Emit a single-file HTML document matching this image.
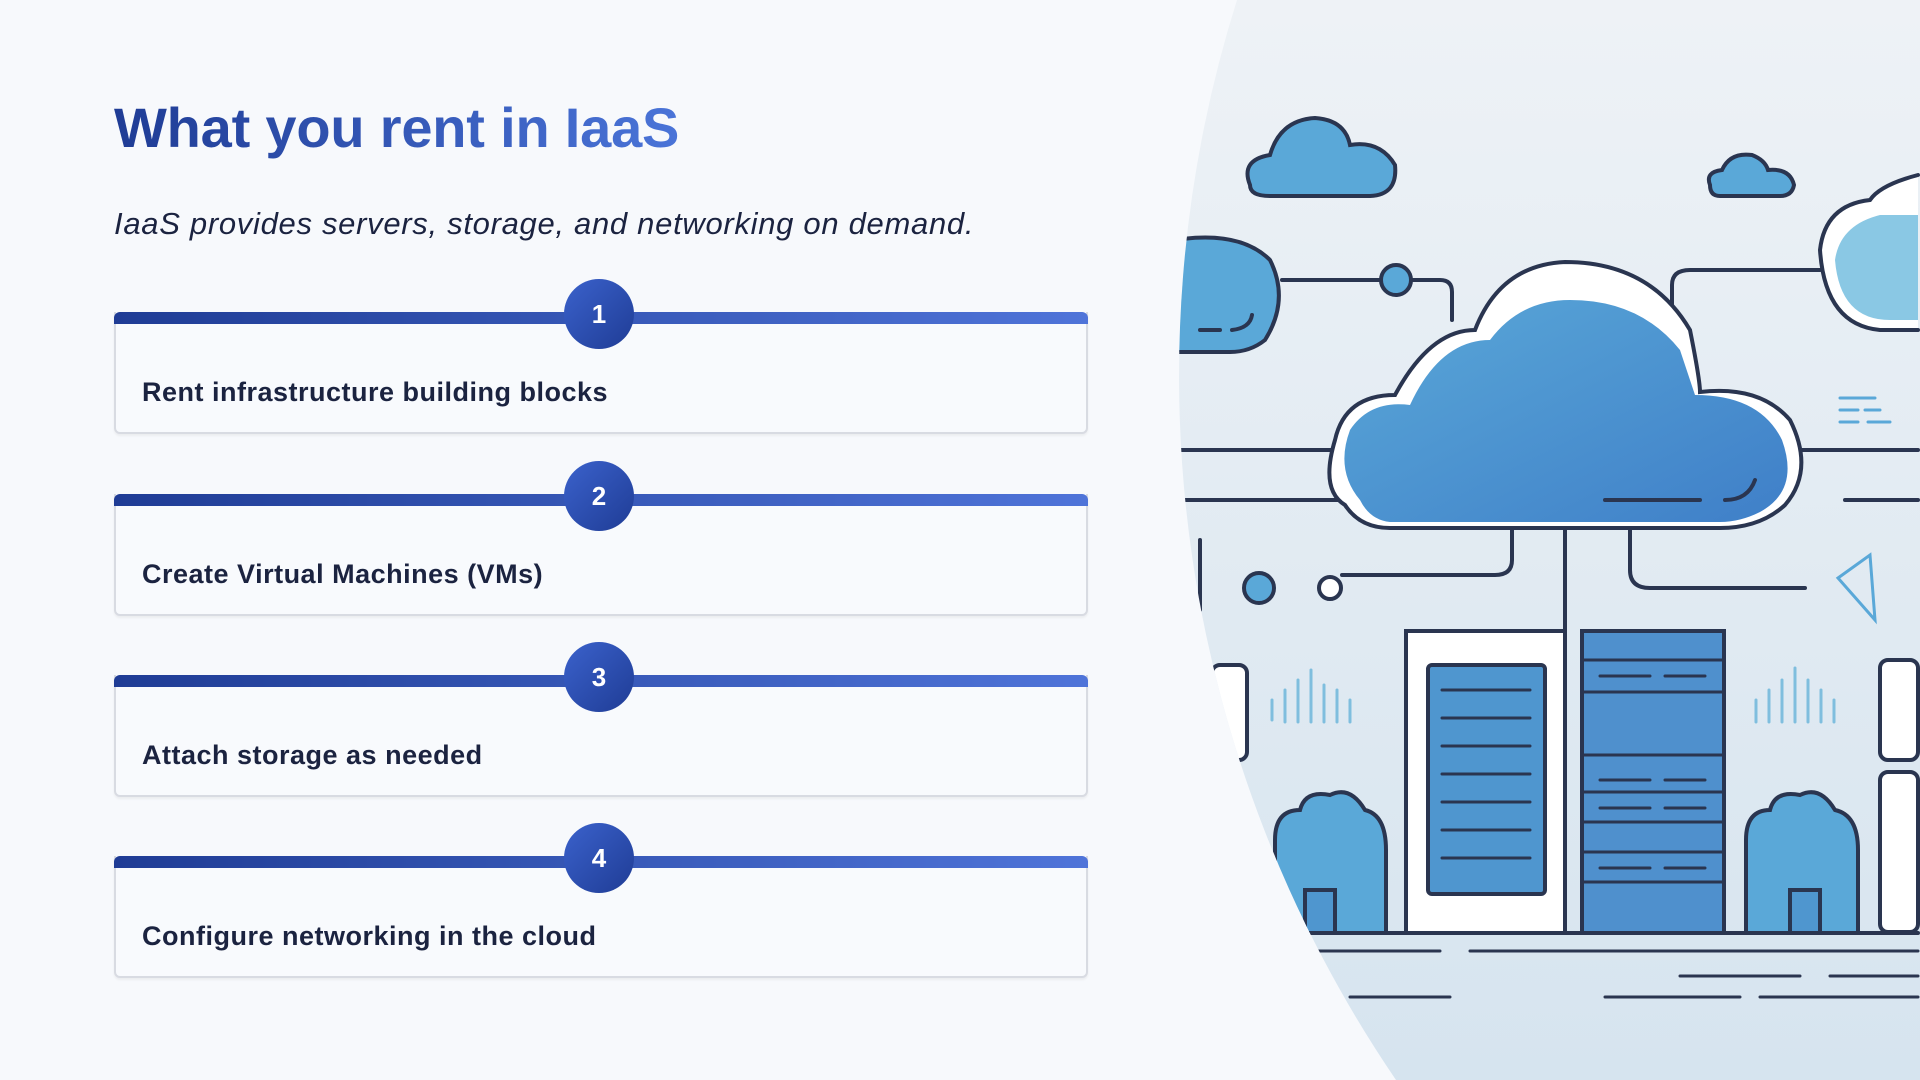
<!DOCTYPE html>
<html><head><meta charset="utf-8"><style>
html,body{margin:0;padding:0;width:1920px;height:1080px;overflow:hidden;background:#f7f9fc;font-family:"Liberation Sans",sans-serif;}
#w{position:relative;width:1920px;height:1080px;overflow:hidden;}
svg{display:block;position:absolute;left:0;top:0;}
.t{position:absolute;left:114px;top:96px;font-size:56px;font-weight:bold;margin:0;letter-spacing:-0.2px;line-height:64px;
background:linear-gradient(90deg,#1f3c95,#4a74d8);-webkit-background-clip:text;background-clip:text;color:transparent;}
.s{position:absolute;left:114px;top:206px;font-size:31px;font-style:italic;color:#1b2340;letter-spacing:0.7px;line-height:36px;}
.card{position:absolute;left:114px;width:970px;height:120px;border:2px solid #d8dbe2;border-top:none;border-radius:0 0 6px 6px;background:#f8fafd;box-shadow:0 2px 2px rgba(0,0,0,0.05);}
.bar{position:absolute;left:-2px;top:0;width:974px;height:12px;border-radius:6px 6px 0 0;background:linear-gradient(90deg,#1f3c95,#4f74d9);}
.num{position:absolute;left:448px;top:-33px;width:70px;height:70px;border-radius:50%;background:linear-gradient(135deg,#3b62cc,#1f3c95);color:#fff;font-weight:bold;font-size:26px;text-align:center;line-height:70px;}
.lbl{position:absolute;left:26px;top:64px;font-size:27px;font-weight:bold;color:#1b2340;letter-spacing:0.5px;line-height:32px;}
</style></head><body><div id="w">
<svg width="1920" height="1080" viewBox="0 0 1920 1080">
<defs>
<linearGradient id="bg" x1="0" y1="0" x2="0" y2="1"><stop offset="0" stop-color="#eef2f6"/><stop offset="1" stop-color="#d6e4ef"/></linearGradient>
<linearGradient id="cb" x1="0" y1="0" x2="1" y2="1"><stop offset="0" stop-color="#5aa8d8"/><stop offset="1" stop-color="#3f7fc8"/></linearGradient>
<clipPath id="cp"><path d="M1237 0 A1250 1250 0 0 0 1396 1080 L1920 1080 L1920 0 Z"/></clipPath>
</defs>
<path d="M1237 0 A1250 1250 0 0 0 1396 1080 L1920 1080 L1920 0 Z" fill="url(#bg)"/>
<g clip-path="url(#cp)" stroke="#2a3550" stroke-width="4" fill="none" stroke-linecap="round">
<path d="M1282 280 H1440 Q1452 280 1452 292 V320"/>
<path d="M1180 450 H1332"/>
<path d="M1185 500 H1500 Q1512 500 1512 510 V560 Q1512 575 1495 575 H1342"/>
<path d="M1200 540 V610"/>
<path d="M1565 529 V631"/>
<path d="M1630 529 V570 Q1630 588 1650 588 H1805"/>
<path d="M1672 320 V285 Q1672 270 1690 270 H1820"/>
<path d="M1800 450 H1918"/>
<path d="M1845 500 H1918"/>
<circle cx="1396" cy="280" r="15" fill="#5aa8d8"/>
<circle cx="1259" cy="588" r="15" fill="#5aa8d8"/>
<circle cx="1330" cy="588" r="11" fill="#fff"/>
<path d="M1345 505 Q1320 490 1335 440 Q1345 395 1395 395 Q1430 330 1475 330 Q1500 265 1565 262 Q1650 262 1690 330 Q1700 380 1700 392 Q1760 385 1790 420 Q1815 470 1785 505 Q1760 528 1720 528 H1390 Q1360 528 1345 505 Z" fill="#fff"/>
<path d="M1360 500 Q1335 470 1350 430 Q1370 400 1410 405 Q1440 340 1490 340 Q1520 300 1570 300 Q1640 300 1680 350 Q1690 380 1695 395 Q1760 395 1782 440 Q1800 490 1760 512 Q1740 522 1720 522 H1390 Q1370 520 1360 500 Z" fill="url(#cb)" stroke="none"/>
<path d="M1605 500 H1700 M1725 500 Q1748 500 1755 480"/>
<path d="M1250 185 Q1240 160 1270 155 Q1280 120 1315 118 Q1345 120 1350 145 Q1380 140 1395 165 Q1398 195 1370 196 H1270 Q1250 196 1250 185 Z" fill="#5aa8d8"/>
<path d="M1710 185 Q1705 172 1722 170 Q1730 152 1752 155 Q1765 160 1768 170 Q1790 168 1794 185 Q1792 196 1780 196 H1720 Q1710 196 1710 185 Z" fill="#5aa8d8"/>
<path d="M1175 240 Q1240 230 1270 260 Q1290 300 1265 340 Q1250 352 1230 352 H1175" fill="#5aa8d8"/>
<path d="M1200 330 H1220 M1232 330 Q1250 328 1252 315"/>
<path d="M1918 175 Q1880 185 1870 200 Q1825 205 1820 250 Q1825 325 1880 330 H1918" fill="#fff"/>
<path d="M1880 215 Q1840 225 1835 260 Q1840 320 1890 320 H1918 V215 Z" fill="#8ac8e4" stroke="none"/>
<rect x="1406" y="631" width="159" height="302" fill="#fff"/>
<rect x="1428" y="665" width="117" height="229" rx="4" fill="#4f96cf"/>
<g stroke-width="3"><path d="M1442 690H1530M1442 718H1530M1442 746H1530M1442 774H1530M1442 802H1530M1442 830H1530M1442 858H1530"/></g>
<rect x="1582" y="631" width="142" height="302" fill="#4f90cd"/>
<g stroke-width="3"><path d="M1582 660H1724M1582 692H1724M1582 755H1724M1582 792H1724M1582 822H1724M1582 852H1724M1582 882H1724"/>
<path d="M1600 676H1650M1665 676H1705M1600 780H1650M1665 780H1705M1600 808H1650M1665 808H1705M1600 868H1650M1665 868H1705"/></g>
<g stroke="#7fbede" stroke-width="3"><path d="M1272 700V720M1285 690V722M1298 680V722M1311 670V722M1324 685V722M1337 690V722M1350 700V722M1756 700V722M1769 690V722M1782 680V722M1795 668V722M1808 680V722M1821 690V722M1834 700V722"/></g>
<path d="M1275 933 V840 Q1275 810 1300 810 Q1305 790 1330 795 Q1350 785 1365 810 Q1386 815 1386 850 V933" fill="#5aa8d8"/>
<rect x="1305" y="890" width="30" height="43" fill="#4f96cf"/>
<path d="M1746 933 V840 Q1746 810 1770 810 Q1775 790 1800 795 Q1820 785 1835 810 Q1858 815 1858 850 V933" fill="#5aa8d8"/>
<rect x="1790" y="890" width="30" height="43" fill="#4f96cf"/>
<rect x="1880" y="660" width="38" height="100" rx="8" fill="#fff"/>
<rect x="1880" y="772" width="38" height="160" rx="8" fill="#fff"/>
<rect x="1212" y="665" width="35" height="95" rx="8" fill="#fff"/>
<path d="M1838 578 L1870 555 L1875 620 Z" stroke="#5aa8d8" stroke-width="3"/>
<path d="M1180 933 H1918"/>
<path d="M1290 951 H1440 M1470 951 H1918 M1680 976 H1800 M1830 976 H1918 M1350 997 H1450 M1605 997 H1740 M1760 997 H1918" stroke-width="3"/>
<path d="M1840 398 H1875 M1840 410 H1858 M1865 410 H1880 M1840 422 H1858 M1868 422 H1890" stroke="#5aa8d8" stroke-width="3"/>
</g>
</svg>
<div class="t">What you rent in IaaS</div>
<div class="s">IaaS provides servers, storage, and networking on demand.</div>
<div class="card" style="top:312px"><div class="bar"></div><div class="num">1</div><div class="lbl">Rent infrastructure building blocks</div></div>
<div class="card" style="top:494px"><div class="bar"></div><div class="num">2</div><div class="lbl">Create Virtual Machines (VMs)</div></div>
<div class="card" style="top:675px"><div class="bar"></div><div class="num">3</div><div class="lbl">Attach storage as needed</div></div>
<div class="card" style="top:856px"><div class="bar"></div><div class="num">4</div><div class="lbl">Configure networking in the cloud</div></div>
</div></body></html>
